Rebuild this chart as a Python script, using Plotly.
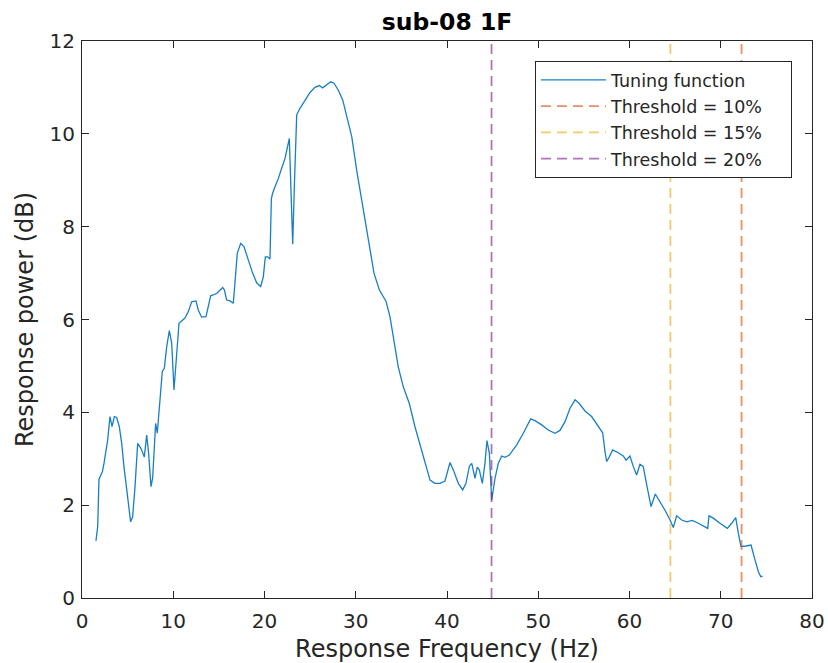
import plotly.graph_objects as go

# Tuning function samples (Hz, dB)
freq = [1.53, 1.72, 1.86, 2.23, 2.41, 2.63, 2.81, 3.07, 3.29, 3.54, 3.80, 4.09, 4.35, 4.60,
        4.89, 5.15, 5.33, 5.55, 5.81, 6.10, 6.47, 6.83, 7.09, 7.30, 7.56, 7.74, 8.07, 8.25,
        8.47, 8.80, 9.02, 9.28, 9.57, 9.83, 10.08, 10.37, 10.63, 10.92, 11.29, 11.65, 12.02,
        12.49, 12.75, 13.11, 13.59, 14.10, 14.76, 15.42, 15.60, 15.85, 16.22, 16.58, 16.77,
        17.02, 17.39, 17.75, 18.23, 18.70, 19.14, 19.58, 19.87, 20.09, 20.35, 20.60, 20.75,
        20.89, 21.15, 21.52, 21.88, 22.25, 22.72, 22.85, 23.09, 23.27, 23.53, 23.89, 24.44,
        24.99, 25.53, 26.01, 26.37, 26.74, 27.25, 27.62, 28.09, 28.57, 29.01, 29.56, 30.10,
        30.65, 31.20, 31.64, 32.00, 32.58, 33.32, 33.75, 34.19, 34.66, 35.21, 35.87, 36.49,
        37.22, 37.77, 38.14, 38.68, 39.23, 39.78, 40.04, 40.33, 40.69, 41.24, 41.72, 42.08,
        42.45, 42.71, 43.07, 43.32, 43.54, 43.87, 44.16, 44.38, 44.64, 44.90, 45.26, 45.62,
        45.99, 46.36, 46.83, 47.09, 47.64, 48.36, 48.84, 49.17, 49.64, 50.37, 51.10, 51.84,
        52.38, 52.93, 53.48, 54.03, 54.50, 55.12, 55.85, 56.40, 57.06, 57.32, 57.50, 57.79,
        58.15, 58.77, 59.32, 59.62, 60.05, 60.42, 60.78, 61.15, 61.51, 61.88, 62.36, 62.83,
        63.34, 63.89, 64.44, 64.80, 65.17, 65.72, 66.27, 66.88, 67.54, 68.09, 68.57, 68.71,
        69.18, 69.92, 70.72, 71.20, 71.64, 71.93, 72.22, 72.77, 73.32, 73.75, 74.12, 74.38,
        74.59]
power = [1.23, 1.54, 2.56, 2.72, 2.90, 3.22, 3.40, 3.91, 3.69, 3.91, 3.89, 3.69, 3.33, 2.83,
         2.40, 1.97, 1.64, 1.75, 2.40, 3.33, 3.22, 3.04, 3.51, 3.12, 2.40, 2.58, 3.76, 3.55,
         4.05, 4.88, 4.95, 5.41, 5.76, 5.49, 4.48, 5.34, 5.92, 5.97, 6.03, 6.17, 6.38,
         6.40, 6.20, 6.05, 6.06, 6.51, 6.56, 6.69, 6.64, 6.42, 6.40, 6.35, 6.92,
         7.43, 7.64, 7.57, 7.28, 7.00, 6.79, 6.71, 6.92, 7.35, 7.35, 7.30, 8.60,
         8.72, 8.86, 9.04, 9.26, 9.47, 9.90, 9.20, 7.62, 8.86, 10.41, 10.55, 10.73,
         10.89, 11.00, 11.04, 10.99, 11.05, 11.12, 11.09, 10.94, 10.73, 10.37, 9.94, 9.22,
         8.57, 7.93, 7.35, 7.00, 6.64, 6.39, 6.06, 5.49, 4.98, 4.55, 4.19, 3.69,
         3.19, 2.76, 2.54, 2.47, 2.47, 2.52, 2.72, 2.92, 2.76, 2.47, 2.33, 2.47,
         2.84, 2.90, 2.58, 2.82, 2.76, 2.47, 2.90, 3.39, 3.12, 2.11, 2.58, 2.90,
         3.06, 3.03, 3.08, 3.15, 3.30, 3.55, 3.74, 3.86, 3.82, 3.73, 3.62, 3.55,
         3.61, 3.80, 4.09, 4.27, 4.19, 4.03, 3.91, 3.76, 3.56, 3.15, 2.94, 3.04,
         3.19, 3.13, 3.06, 2.97, 3.06, 2.83, 2.65, 2.88, 2.83, 2.44, 1.97, 2.24,
         2.08, 1.89, 1.68, 1.52, 1.77, 1.68, 1.64, 1.67, 1.61, 1.56, 1.50, 1.77,
         1.72, 1.61, 1.50, 1.61, 1.73, 1.39, 1.11, 1.12, 1.14, 0.82, 0.57, 0.46,
         0.47]

# Threshold cut-off frequencies (Hz)
threshold_labels = ["Threshold = 10%", "Threshold = 15%", "Threshold = 20%"]
threshold_freqs = [72.28, 64.48, 44.88]
threshold_colors = ["#D95319", "#EDB120", "#7E2F8E"]

x_ticks = [0, 10, 20, 30, 40, 50, 60, 70, 80]
y_ticks = [0, 2, 4, 6, 8, 10, 12]

FONT = "DejaVu Sans, Liberation Sans, sans-serif"
AXIS_COLOR = "#262626"
PAD = "&nbsp;" * 4  # extra room on the right of the legend entries

fig = go.Figure()
fig.add_trace(go.Scatter(
    x=freq, y=power, mode="lines", name="Tuning function" + PAD, legendgroup="tf",
    line=dict(color="#0072BD", width=1.3), opacity=0.9,
))
for label, f, c in zip(threshold_labels, threshold_freqs, threshold_colors):
    fig.add_trace(go.Scatter(
        x=[f, f], y=[y_ticks[0], y_ticks[-1]], mode="lines", name=label + PAD, legendgroup=label,
        line=dict(color=c, width=1.8, dash="10px,6px"), opacity=0.65,
    ))

axis_common = dict(
    showline=True, linecolor=AXIS_COLOR, linewidth=1, mirror="ticks",
    ticks="inside", ticklen=7, tickcolor=AXIS_COLOR, tickwidth=1,
    showgrid=False, zeroline=False, automargin=False,
    tickfont=dict(family=FONT, size=20, color=AXIS_COLOR),
)
fig.update_xaxes(
    range=[x_ticks[0], x_ticks[-1]], tickvals=x_ticks, ticklabelstandoff=5,
    title=dict(text="Response Frequency (Hz)", font=dict(family=FONT, size=24, color=AXIS_COLOR), standoff=10),
    **axis_common,
)
fig.update_yaxes(
    range=[y_ticks[0], y_ticks[-1]], tickvals=y_ticks, ticklabelstandoff=2,
    title=dict(text="Response power (dB)", font=dict(family=FONT, size=24, color=AXIS_COLOR), standoff=9),
    **axis_common,
)

fig.update_layout(
    width=828, height=663,
    margin=dict(l=82, r=16, t=41, b=65),
    plot_bgcolor="white", paper_bgcolor="white",
    title=dict(text="<b>sub-08 1F</b>", x=0.54, xanchor="center", y=0.967, yanchor="middle",
               font=dict(family=FONT, size=23.5, color="black")),
    legend=dict(
        x=0.9726, xanchor="right", y=0.964, yanchor="top",
        bgcolor="white", bordercolor=AXIS_COLOR, borderwidth=1,
        font=dict(family=FONT, size=17.5, color=AXIS_COLOR),
        itemwidth=65, tracegroupgap=0.5,
    ),
    showlegend=True,
)

fig.write_html("out.html")
